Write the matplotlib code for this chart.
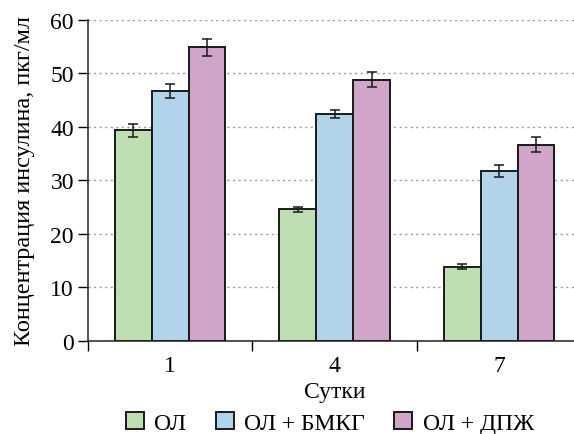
import matplotlib.pyplot as plt
from matplotlib.patches import Patch
import numpy as np

plt.rcParams['font.family'] = ['Liberation Serif', 'DejaVu Serif']

days = ['1', '4', '7']
groups = ['ОЛ', 'ОЛ + БМКГ', 'ОЛ + ДПЖ']
colors = ['#bddfb1', '#b2d4ea', '#d1a5ca']

ol      = [39.4, 24.6, 13.9]
ol_bmkg = [46.7, 42.4, 31.8]
ol_dpzh = [54.9, 48.8, 36.7]
ol_err      = [1.2, 0.5, 0.5]
ol_bmkg_err = [1.3, 0.8, 1.1]
ol_dpzh_err = [1.6, 1.4, 1.4]

values = [ol, ol_bmkg, ol_dpzh]
errors = [ol_err, ol_bmkg_err, ol_dpzh_err]

fig = plt.figure(figsize=(5.74, 4.35), dpi=100)
ax = fig.add_axes([0.153, 0.214, 0.86, 0.738])

x = np.arange(len(days)) + 0.5
w = 0.224
for i in range(3):
    ax.bar(x + (i - 1) * w, values[i], w, color=colors[i], edgecolor='#1a1a1a',
           linewidth=1.4, zorder=3,
           yerr=errors[i], capsize=3.3,
           error_kw=dict(ecolor='#1a1a1a', elinewidth=1.1, capthick=1.1, zorder=4))

ax.set_ylim(0, 60)
ax.set_xlim(0, 3)
ax.set_yticks(np.arange(0, 61, 10))
ax.set_xticks(x)
ax.set_xticklabels(days)
ax.set_xticks([0, 1, 2], minor=True)
ax.tick_params(axis='x', which='major', length=0, pad=10, labelsize=17)
ax.tick_params(axis='x', which='minor', length=7, width=1, direction='out')
ax.tick_params(axis='y', length=7, width=1, direction='out', labelsize=17, pad=3)

ax.grid(axis='y', linestyle=(0, (1.5, 2.5)), color='#999999', linewidth=1)
ax.set_axisbelow(True)
for s in ['top', 'right']:
    ax.spines[s].set_visible(False)
for s in ['left', 'bottom']:
    ax.spines[s].set_color('#333333')
    ax.spines[s].set_linewidth(1.2)

ax.set_ylabel('Концентрация инсулина, пкг/мл', fontsize=17.5, labelpad=11)
ax.set_xlabel('Сутки', fontsize=17, labelpad=4)

handles = [Patch(facecolor=c, edgecolor='#1a1a1a', linewidth=1.4) for c in colors]
fig.legend(handles, groups, loc='center', bbox_to_anchor=(0.575, 0.025), ncol=3,
           frameon=False, fontsize=17, handlelength=0.75, handleheight=0.75,
           handletextpad=0.45, columnspacing=1.25)

fig.savefig('out.png', dpi=100)
